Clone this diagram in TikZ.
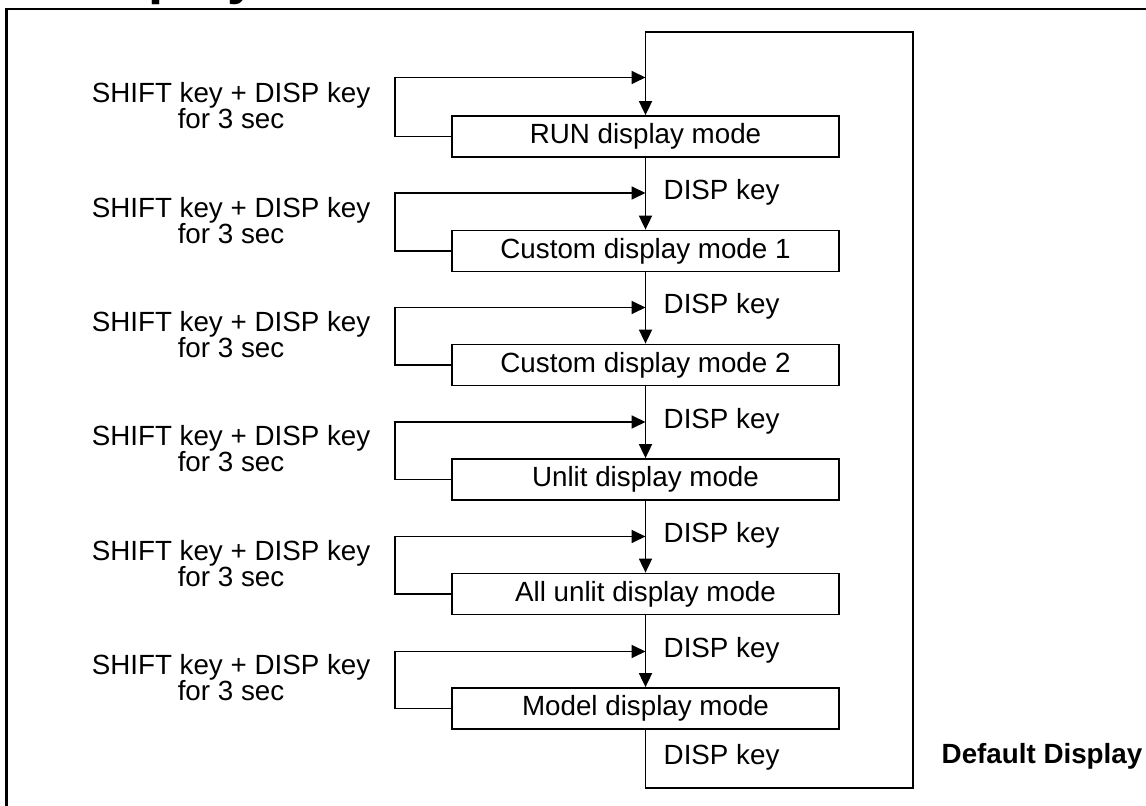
\documentclass[tikz,border=0pt]{standalone}
\usepackage{fontspec}
\setmainfont{Liberation Sans}
\usetikzlibrary{arrows.meta}

\begin{document}
\begin{tikzpicture}[
    every node/.style = {font=\fontsize{7.9}{7.4}\selectfont},
    mode/.style = {draw, line width=0.5pt, minimum width=3.87cm, minimum height=0.41cm, inner sep=0},
    lbl/.style = {inner sep=0, anchor=west},
    hold/.style = {inner sep=0, align=center},
    arr/.style = {-{Triangle[length=0.14cm, width=0.13cm]}, line width=0.5pt},
    ln/.style = {line width=0.5pt}
  ]
        \useasboundingbox (0, 0) rectangle (11.46, -8.06);
        \clip (0, 0) rectangle (11.46, -8.06);
        \draw[line width=0.6pt] (0.065, -8.3) |- (11.7, -0.09);
        \node[font=\bfseries\fontsize{15.4}{18}\selectfont, inner sep=0, anchor=base west] (title) at (0.64, 0.06) {Display};
        \node[mode] (run) at (6.455, -1.365) {RUN display mode};
        \node[mode] (cust1) at (6.455, -2.51) {Custom display mode 1};
        \node[mode] (cust2) at (6.455, -3.65) {Custom display mode 2};
        \node[mode] (unlit) at (6.455, -4.795) {Unlit display mode};
        \node[mode] (allunlit) at (6.455, -5.94) {All unlit display mode};
        \node[mode] (model) at (6.455, -7.085) {Model display mode};
        \coordinate (a1) at (6.455, -0.775);
        \coordinate (a2) at (6.455, -1.93);
        \coordinate (a3) at (6.455, -3.075);
        \coordinate (a4) at (6.455, -4.22);
        \coordinate (a5) at (6.455, -5.365);
        \coordinate (a6) at (6.455, -6.515);
        \coordinate (top) at (6.455, -0.32);
        \coordinate (ret) at (9.13, -7.88);
        \node[hold] (hold1) at (2.31, -1.06) {SHIFT key + DISP key\\for 3 sec};
        \node[hold] (hold2) at (2.31, -2.205) {SHIFT key + DISP key\\for 3 sec};
        \node[hold] (hold3) at (2.31, -3.345) {SHIFT key + DISP key\\for 3 sec};
        \node[hold] (hold4) at (2.31, -4.49) {SHIFT key + DISP key\\for 3 sec};
        \node[hold] (hold5) at (2.31, -5.635) {SHIFT key + DISP key\\for 3 sec};
        \node[hold] (hold6) at (2.31, -6.78) {SHIFT key + DISP key\\for 3 sec};
        \node[lbl] (disp2) at (6.63, -1.92) {DISP key};
        \node[lbl] (disp3) at (6.63, -3.065) {DISP key};
        \node[lbl] (disp4) at (6.63, -4.21) {DISP key};
        \node[lbl] (disp5) at (6.63, -5.355) {DISP key};
        \node[lbl] (disp6) at (6.63, -6.505) {DISP key};
        \node[lbl] (disp7) at (6.63, -7.57) {DISP key};
        \node[font=\bfseries\fontsize{7.9}{7.4}\selectfont, inner sep=0] (default) at (10.42, -7.56) {Default Display};
        \draw[arr] (run.west) -- ++(-0.56, 0) |- (a1);
        \draw[arr] (cust1.west) -- ++(-0.56, 0) |- (a2);
        \draw[arr] (cust2.west) -- ++(-0.56, 0) |- (a3);
        \draw[arr] (unlit.west) -- ++(-0.56, 0) |- (a4);
        \draw[arr] (allunlit.west) -- ++(-0.56, 0) |- (a5);
        \draw[arr] (model.west) -- ++(-0.56, 0) |- (a6);
        \draw[arr] (run) -- (cust1);
        \draw[arr] (cust1) -- (cust2);
        \draw[arr] (cust2) -- (unlit);
        \draw[arr] (unlit) -- (allunlit);
        \draw[arr] (allunlit) -- (model);
        \draw[arr] (model.south) |- (ret) |- (top) -- (run.north);
      \end{tikzpicture}
\end{document}
